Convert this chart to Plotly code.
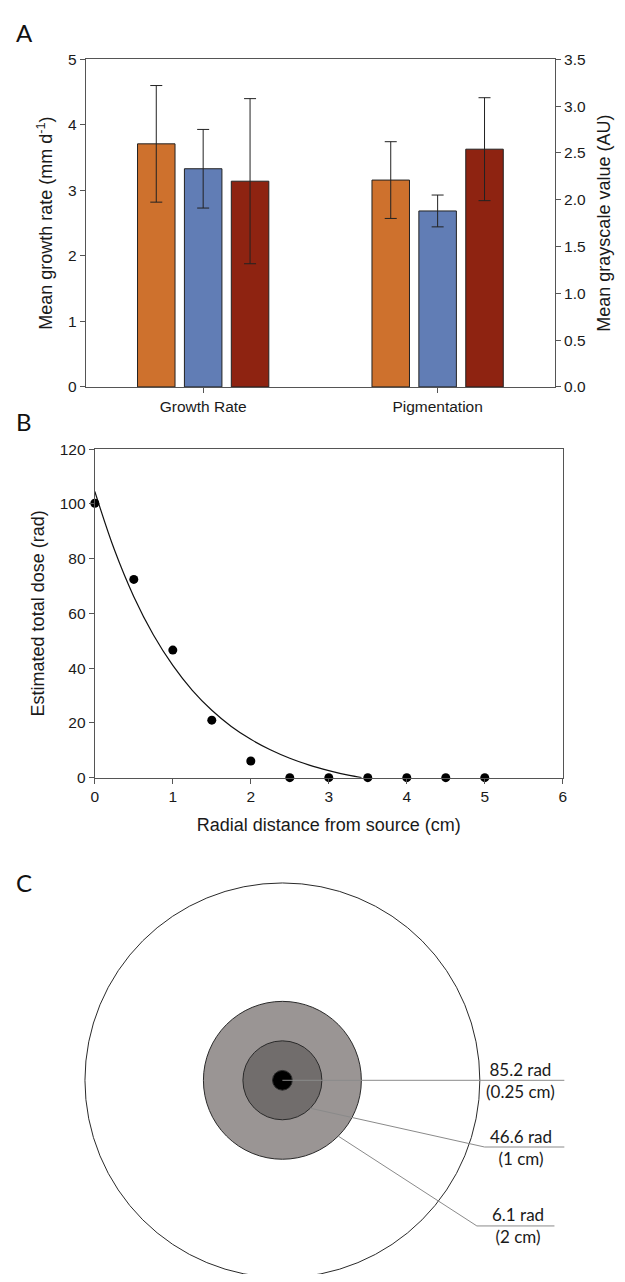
import plotly.graph_objects as go

W, H = 625, 1282

# ---------------- Panel A data ----------------
categories = ["Growth Rate", "Pigmentation"]
growth_mean = [3.71, 3.33, 3.14]
growth_err = [0.89, 0.60, 1.26]
pig_mean = [2.21, 1.88, 2.54]
pig_err = [0.41, 0.17, 0.55]
bar_colors = ["#CE712D", "#617DB5", "#8E2311"]

# ---------------- Panel B data ----------------
dist_cm = [0, 0.5, 1, 1.5, 2, 2.5, 3, 3.5, 4, 4.5, 5]
dose_rad = [100.2, 72.4, 46.6, 21.0, 6.1, 0, 0, 0, 0, 0, 0]
fit_x = [0, 0.25, 0.5, 0.75, 1.0, 1.25, 1.5, 1.75, 2.0, 2.25, 2.5, 2.75, 3.0, 3.25, 3.42]
fit_y = [104.5, 83.3, 66.1, 52.2, 41.0, 31.9, 24.6, 18.7, 14.0, 10.2, 7.1, 4.6, 2.6, 0.9, 0.0]

# ---------------- Panel C data ----------------
ring_radii_cm = [5, 2, 1, 0.25]
ring_fills = ["#FFFFFF", "#9A9594", "#716D6C", "#000000"]
label_doses = ["85.2 rad", "46.6 rad", "6.1 rad"]
label_dists = ["(0.25 cm)", "(1 cm)", "(2 cm)"]


def dx(px):
    return px / W


def dy(py):
    return 1 - py / H


AX = "#555555"
TXT = "#1a1a1a"
tick_font = dict(family="Liberation Sans, Arial, sans-serif", size=15.5, color=TXT)
title_font = dict(family="Liberation Sans, Arial, sans-serif", size=18, color=TXT)

fig = go.Figure()

offsets = [-0.28, -0.08, 0.12]
for i in range(3):
    fig.add_trace(go.Bar(
        x=[categories[0]], y=[growth_mean[i]],
        error_y=dict(type="data", array=[growth_err[i]], color="#222222", thickness=1, width=6),
        marker=dict(color=bar_colors[i], line=dict(color="#222222", width=1)),
        width=0.16, offset=offsets[i], xaxis="x", yaxis="y", showlegend=False,
    ))
for i in range(3):
    fig.add_trace(go.Bar(
        x=[categories[1]], y=[pig_mean[i]],
        error_y=dict(type="data", array=[pig_err[i]], color="#222222", thickness=1, width=6),
        marker=dict(color=bar_colors[i], line=dict(color="#222222", width=1)),
        width=0.16, offset=offsets[i], xaxis="x", yaxis="y2", showlegend=False,
    ))

# Panel B
fig.add_trace(go.Scatter(
    x=fit_x, y=fit_y, mode="lines", line=dict(color="#111111", width=1.2, shape="spline"),
    xaxis="x2", yaxis="y3", showlegend=False, hoverinfo="skip",
))
fig.add_trace(go.Scatter(
    x=dist_cm, y=dose_rad, mode="markers", marker=dict(color="#000000", size=9),
    xaxis="x2", yaxis="y3", showlegend=False, cliponaxis=False,
))

axis_common = dict(showline=True, linecolor=AX, linewidth=1.2, ticks="outside", ticklen=5,
                   tickcolor=AX, tickwidth=1.2, tickfont=tick_font, showgrid=False, zeroline=False)

shapes = []
for r, c in zip(ring_radii_cm, ring_fills):
    shapes.append(dict(type="circle", xref="x3", yref="y4", x0=-r, x1=r, y0=-r, y1=r,
                       fillcolor=c, line=dict(color="#2a2a2a", width=1)))

# leader lines (layout geometry, cm coordinates)
leaders = [
    "M 0 0 L 7.14 0",
    "M 0.707 -0.707 L 5.12 -1.69 L 7.14 -1.69",
    "M 1.414 -1.414 L 4.925 -3.69 L 6.89 -3.69",
]
label_pos = [(6.03, 0.0), (6.05, -1.69), (5.97, -3.69)]
for p in leaders:
    shapes.append(dict(type="path", xref="x3", yref="y4", path=p,
                       line=dict(color="#8a8a8a", width=1)))

annotations = []
for (lx, ly), d, s in zip(label_pos, label_doses, label_dists):
    annotations.append(dict(xref="x3", yref="y4", x=lx, y=ly, text=d + "<br>" + s,
                            showarrow=False, xanchor="center", yanchor="middle",
                            font=dict(family="Lato, Open Sans, sans-serif", size=17, color=TXT)))

letter_font = dict(family="Lato, Open Sans, sans-serif", size=24, color="#111111")
for t, px, py in [("A", 21, 23.5), ("B", 20.5, 418), ("C", 20.5, 885)]:
    annotations.append(dict(xref="paper", yref="paper", x=dx(px), y=dy(py), text=t,
                            showarrow=False, xanchor="center", yanchor="middle", font=letter_font))

fig.update_layout(
    width=W, height=H, margin=dict(l=0, r=0, t=0, b=0),
    paper_bgcolor="white", plot_bgcolor="rgba(0,0,0,0)",
    barmode="overlay", showlegend=False, hovermode=False,
    xaxis=dict(domain=[dx(83), dx(558)], anchor="y", type="category",
               categoryorder="array", categoryarray=categories, range=[-0.5, 1.5],
               mirror=True, **axis_common),
    yaxis=dict(domain=[dy(383), dy(51)], anchor="x", range=[0, 5], dtick=1,
               title=dict(text="Mean growth rate (mm d<sup>-1</sup>)", font=title_font, standoff=10),
               **axis_common),
    yaxis2=dict(overlaying="y", side="right", anchor="x", range=[0, 3.5], dtick=0.5,
                tickformat=".1f",
                title=dict(text="Mean grayscale value (AU)", font=title_font, standoff=12),
                **axis_common),
    xaxis2=dict(domain=[dx(92), dx(566)], anchor="y3", range=[0, 6], dtick=1, mirror=True,
                title=dict(text="Radial distance from source (cm)", font=title_font, standoff=14),
                **axis_common),
    yaxis3=dict(domain=[dy(779), dy(446)], anchor="x2", range=[0, 120], dtick=20, mirror=True,
                title=dict(text="Estimated total dose (rad)", font=title_font, standoff=10),
                **axis_common),
    xaxis3=dict(domain=[0, 1], anchor="y4", range=[-7.05, 8.575], visible=False),
    yaxis4=dict(domain=[0, dy(860)], anchor="x3", range=[-4.9075, 5.6425], visible=False),
    shapes=shapes,
    annotations=annotations,
)

fig.write_html("out.html", config={"displayModeBar": False},
               post_script="document.body.style.margin='0px';document.body.style.overflow='hidden';")
